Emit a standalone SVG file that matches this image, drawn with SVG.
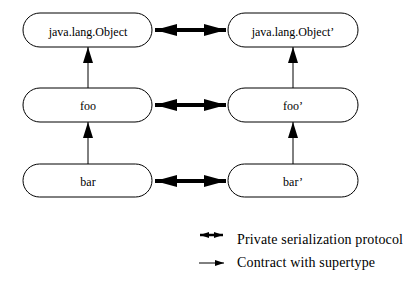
<svg xmlns="http://www.w3.org/2000/svg" width="420" height="290" viewBox="0 0 420 290">
<defs>
<style>
.node rect{fill:#fff;stroke:#000;stroke-width:1}
.node text{font-family:"Liberation Serif",serif;font-size:12px;text-anchor:middle;fill:#000}
.thin{stroke:#000;stroke-width:1;fill:none}
.thick{stroke:#000;stroke-width:4;fill:none}
.leg{font-family:"Liberation Serif",serif;font-size:14px;fill:#000}
</style>
<marker id="up" markerUnits="userSpaceOnUse" markerWidth="16" markerHeight="10" viewBox="0 0 16 10" refX="16" refY="5" orient="auto">
<path d="M0,0 L16,5 L0,10 Z" fill="#000"/>
</marker>
<marker id="dbl" markerUnits="userSpaceOnUse" markerWidth="22" markerHeight="12" viewBox="0 0 22 12" refX="22" refY="6" orient="auto-start-reverse">
<path d="M0,0 L22,6 L0,12 Z" fill="#000"/>
</marker>
<marker id="dblS" markerUnits="userSpaceOnUse" markerWidth="9" markerHeight="6" viewBox="0 0 9 6" refX="9" refY="3" orient="auto-start-reverse">
<path d="M0,0 L9,3 L0,6 Z" fill="#000"/>
</marker>
<marker id="upS" markerUnits="userSpaceOnUse" markerWidth="9" markerHeight="6" viewBox="0 0 9 6" refX="9" refY="3" orient="auto">
<path d="M0,0 L9,3 L0,6 Z" fill="#000"/>
</marker>
</defs>
<rect width="420" height="290" fill="#fff"/>
<g id="connectors">
<line class="thin" x1="88" y1="88" x2="88" y2="47" marker-end="url(#up)"/>
<line class="thin" x1="293" y1="88" x2="293" y2="47" marker-end="url(#up)"/>
<line class="thin" x1="88" y1="164" x2="88" y2="122" marker-end="url(#up)"/>
<line class="thin" x1="293" y1="164" x2="293" y2="122" marker-end="url(#up)"/>
<line class="thick" x1="155" y1="30" x2="226" y2="30" marker-start="url(#dbl)" marker-end="url(#dbl)"/>
<line class="thick" x1="155" y1="105" x2="226" y2="105" marker-start="url(#dbl)" marker-end="url(#dbl)"/>
<line class="thick" x1="155" y1="181" x2="226" y2="181" marker-start="url(#dbl)" marker-end="url(#dbl)"/>
</g>
<g id="n1" class="node"><rect x="23" y="13" width="129" height="34" rx="17"/><text x="88" y="36">java.lang.Object</text></g>
<g id="n2" class="node"><rect x="228" y="13" width="130" height="34" rx="17"/><text x="293" y="36">java.lang.Object’</text></g>
<g id="n3" class="node"><rect x="23" y="88" width="129" height="34" rx="17"/><text x="88" y="110">foo</text></g>
<g id="n4" class="node"><rect x="228" y="88" width="130" height="34" rx="17"/><text x="293" y="110">foo’</text></g>
<g id="n5" class="node"><rect x="23" y="164" width="129" height="33" rx="16.5"/><text x="88" y="186">bar</text></g>
<g id="n6" class="node"><rect x="228" y="164" width="130" height="33" rx="16.5"/><text x="293" y="186">bar’</text></g>
<g id="legend">
<line x1="200" y1="235" x2="223" y2="235" stroke="#000" stroke-width="2.5" marker-start="url(#dblS)" marker-end="url(#dblS)"/>
<text class="leg" x="237" y="244" textLength="166" lengthAdjust="spacing">Private serialization protocol</text>
<line x1="199" y1="263" x2="224" y2="263" stroke="#000" stroke-width="1" marker-end="url(#upS)"/>
<text class="leg" x="237" y="267" textLength="138" lengthAdjust="spacing">Contract with supertype</text>
</g>
</svg>
